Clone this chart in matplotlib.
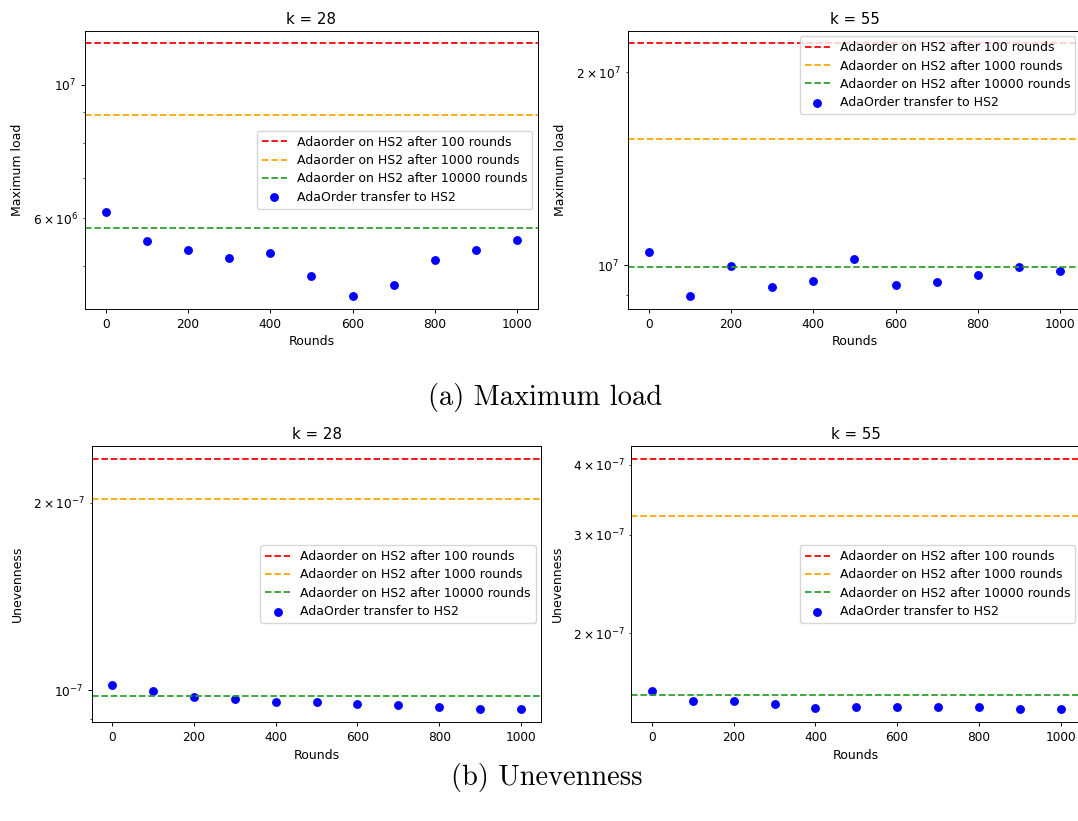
import numpy as np
import matplotlib
matplotlib.use('Agg')
import matplotlib.pyplot as plt

# values
rounds = [0, 100, 200, 300, 400, 500, 600, 700, 800, 900, 1000]
ref_labels = ['Adaorder on HS2 after 100 rounds',
              'Adaorder on HS2 after 1000 rounds',
              'Adaorder on HS2 after 10000 rounds']
ref_colors = ['red', 'orange', 'tab:green']

load_k28_ref = [1.172e7, 8.92e6, 5.78e6]
load_k28 = [6.15e6, 5.50e6, 5.31e6, 5.16e6, 5.26e6, 4.82e6, 4.46e6, 4.66e6, 5.11e6, 5.31e6, 5.52e6]

load_k55_ref = [2.22e7, 1.575e7, 9.92e6]
load_k55 = [1.050e7, 8.95e6, 9.97e6, 9.24e6, 9.44e6, 1.022e7, 9.32e6, 9.40e6, 9.67e6, 9.94e6, 9.80e6]

unev_k28_ref = [2.357e-7, 2.032e-7, 9.80e-8]
unev_k28 = [1.020e-7, 9.96e-8, 9.77e-8, 9.67e-8, 9.59e-8, 9.59e-8, 9.50e-8, 9.46e-8, 9.42e-8, 9.32e-8, 9.32e-8]

unev_k55_ref = [4.10e-7, 3.233e-7, 1.553e-7]
unev_k55 = [1.581e-7, 1.517e-7, 1.517e-7, 1.493e-7, 1.471e-7, 1.479e-7, 1.479e-7, 1.479e-7, 1.479e-7, 1.463e-7, 1.463e-7]

scale = 0.85
plt.rcParams.update({
    'font.size': 9,
    'xtick.labelsize': 8.7,
    'ytick.labelsize': 8.7,
    'legend.fontsize': 9,
    'axes.titlesize': 10.8,
    'axes.linewidth': 0.8 * scale,
    'lines.linewidth': 1.5 * scale,
    'xtick.major.size': 3.5 * scale,
    'ytick.major.size': 3.5 * scale,
    'xtick.minor.size': 2 * scale,
    'ytick.minor.size': 2 * scale,
    'xtick.major.width': 0.8 * scale,
    'ytick.major.width': 0.8 * scale,
    'ytick.minor.width': 0.6 * scale,
    'axes.titlepad': 6 * scale,
    'axes.labelpad': 4 * scale,
})

fig = plt.figure(figsize=(10.78, 8.21), dpi=100)


def panel(rect, refs, points, title, ylabel, loc):
    ax = fig.add_axes(rect)
    for val, col, lab in zip(refs, ref_colors, ref_labels):
        ax.axhline(val, color=col, linestyle='--', label=lab)
    ax.scatter(rounds, points, color='blue', s=36 * scale**2,
               linewidths=1.5 * scale, label='AdaOrder transfer to HS2')
    ax.set_yscale('log')
    ax.set_title(title)
    ax.set_xlabel('Rounds')
    ax.set_ylabel(ylabel, labelpad=6.5)
    ax.legend(loc=loc, borderaxespad=0.45, labelspacing=0.42)
    return ax


panel([0.0791, 0.6240, 0.4197, 0.3386], load_k28_ref, load_k28, 'k = 28', 'Maximum load', 'center right')
panel([0.5828, 0.6240, 0.4197, 0.3386], load_k55_ref, load_k55, 'k = 55', 'Maximum load', 'upper right')
panel([0.0852, 0.1206, 0.4170, 0.3362], unev_k28_ref, unev_k28, 'k = 28', 'Unevenness', 'center right')
panel([0.5858, 0.1206, 0.4170, 0.3362], unev_k55_ref, unev_k55, 'k = 55', 'Unevenness', 'center right')

fig.text(0.506, 0.5061, '(a) Maximum load', family='cmr10', fontsize=20.5,
         ha='center', va='baseline')
fig.text(0.507, 0.044, '(b) Unevenness', family='cmr10', fontsize=20.5,
         ha='center', va='baseline')

fig.savefig('out.png', dpi=100)
